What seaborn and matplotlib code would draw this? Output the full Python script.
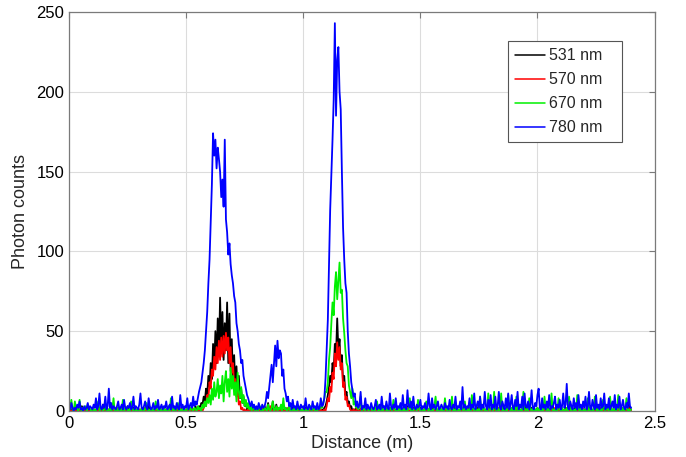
import numpy as np
import pandas as pd
import matplotlib
matplotlib.use("Agg")
import matplotlib.pyplot as plt
import seaborn as sns

# ---------------- data (sampled every 0.005 m from 0 to 2.4 m) ----------------
x_step = 0.005
n_samples = 481

counts_531 = [
    1,0,0,2,0,1,0,0,1,0,0,3,0,1,0,0,2,0,0,1,
    0,1,0,0,2,0,0,1,0,4,0,1,0,0,1,0,2,0,0,1,
    0,0,2,0,1,0,0,1,0,0,3,0,1,0,0,2,0,1,0,0,
    1,0,0,2,0,0,1,0,3,0,0,1,0,0,2,0,1,0,0,1,
    0,2,0,0,1,0,0,3,0,1,0,0,2,0,0,1,0,0,2,0,
    1,0,0,2,0,1,0,0,3,0,1,3,2,5,4,9,6,14,10,22,
    15,30,20,42,28,50,30,58,35,71,40,62,32,55,38,68,30,61,25,45,
    20,35,15,28,10,22,8,14,5,9,3,6,1,3,0,1,0,2,0,0,
    1,0,0,2,0,1,0,3,0,1,5,0,2,0,6,1,0,4,0,2,
    0,3,0,1,0,2,0,0,1,0,0,2,0,1,0,0,3,0,0,1,
    0,0,2,0,1,0,0,1,0,0,2,0,0,1,0,0,1,0,2,3,
    6,10,15,22,18,30,25,42,35,58,38,45,28,35,18,22,10,12,5,6,
    2,3,0,1,0,2,0,0,1,0,3,0,0,1,0,2,0,0,1,0,
    0,2,0,0,1,0,3,0,0,1,0,0,2,0,1,0,0,4,0,1,
    0,0,2,0,1,0,0,1,0,3,0,0,1,0,2,0,0,1,0,0,
    2,0,1,0,0,3,0,1,0,0,2,0,0,1,0,0,2,0,1,0,
    0,1,0,0,2,0,0,1,0,3,0,0,1,0,0,2,0,1,0,0,
    1,0,2,0,0,1,0,0,3,0,1,0,0,2,0,0,1,0,0,2,
    0,1,0,0,2,0,1,0,0,1,0,4,0,0,1,0,2,0,0,1,
    0,0,1,0,2,0,0,1,0,0,3,0,1,0,0,2,0,0,1,0,
    2,0,0,1,0,0,2,0,1,0,0,1,0,3,0,0,1,0,0,2,
    0,1,0,0,2,0,0,1,0,0,1,0,2,0,0,1,0,0,3,0,
    1,0,0,2,0,1,0,0,1,0,0,2,0,0,1,0,3,0,0,1,
    0,2,0,0,1,0,0,3,0,1,0,0,2,0,0,1,0,0,5,0,
    1,
]

counts_570 = [
    0,1,0,0,1,0,0,2,0,0,1,0,0,1,0,0,0,1,0,0,
    1,0,0,1,0,0,2,0,0,1,0,0,0,1,0,0,1,0,0,2,
    0,0,1,0,0,1,0,0,0,2,0,0,1,0,0,1,0,0,1,0,
    0,1,0,0,2,0,0,1,0,0,0,1,0,0,1,0,0,2,0,0,
    1,0,0,1,0,0,0,2,0,0,1,0,0,1,0,0,2,0,0,1,
    0,0,1,0,0,2,0,0,1,0,0,1,0,1,0,2,5,3,10,8,
    18,14,26,22,34,26,40,30,44,32,46,34,47,36,49,38,46,30,40,24,
    30,16,20,9,12,4,6,1,2,0,1,0,0,1,0,0,2,0,0,1,
    0,0,1,0,0,2,0,1,0,0,1,0,3,0,0,1,0,0,2,0,
    0,1,0,0,1,0,0,2,0,0,1,0,0,0,1,0,0,1,0,0,
    1,0,0,1,0,0,2,0,0,1,0,0,1,0,0,1,0,0,1,0,
    3,8,6,15,12,24,20,36,28,43,32,40,26,30,15,18,7,9,3,4,
    1,0,0,1,0,0,2,0,0,1,0,0,1,0,0,0,1,0,0,1,
    0,0,1,0,0,2,0,0,1,0,0,1,0,0,2,0,0,1,0,0,
    1,0,0,1,0,0,1,0,0,2,0,0,1,0,0,1,0,0,1,0,
    0,1,0,0,2,0,0,1,0,0,1,0,0,1,0,0,2,0,0,1,
    0,0,1,0,0,1,0,0,2,0,0,1,0,0,1,0,0,1,0,0,
    2,0,0,1,0,0,1,0,0,1,0,0,2,0,0,1,0,0,1,0,
    0,1,0,0,1,0,0,2,0,0,1,0,0,1,0,0,1,0,0,2,
    0,0,1,0,0,1,0,0,1,0,0,2,0,0,1,0,0,1,0,0,
    1,0,0,2,0,0,1,0,0,1,0,0,1,0,0,2,0,0,1,0,
    0,1,0,0,1,0,0,1,0,0,2,0,0,1,0,0,1,0,0,1,
    0,0,2,0,0,1,0,0,1,0,0,1,0,0,2,0,0,1,0,0,
    1,0,0,1,0,0,2,0,0,1,0,0,1,0,0,1,0,0,2,0,
    0,
]

counts_670 = [
    6,2,7,1,0,6,1,2,0,7,1,0,2,1,3,0,1,2,1,0,
    2,0,1,0,2,6,0,1,2,0,1,3,0,1,0,2,0,1,8,0,
    1,0,2,0,1,0,7,0,1,2,0,1,0,6,1,0,2,0,1,0,
    0,1,0,2,0,1,5,0,1,0,2,0,1,0,6,1,0,2,0,1,
    0,2,0,1,0,3,0,8,1,0,2,0,1,5,0,1,0,2,0,1,
    0,1,3,0,2,1,0,2,1,0,3,1,2,0,4,2,6,3,8,5,
    10,4,14,7,18,9,12,20,8,16,11,22,6,18,25,12,20,9,27,14,
    22,10,18,6,24,12,8,15,5,10,3,7,2,5,1,3,0,4,1,0,
    2,0,1,3,0,1,0,2,1,0,4,1,0,2,6,0,1,3,0,2,
    1,4,0,8,1,2,0,1,3,0,1,0,2,0,1,0,2,1,0,1,
    0,2,0,1,0,1,3,0,1,2,0,1,0,2,1,3,2,5,8,12,
    12,18,32,40,55,68,60,78,87,70,82,93,74,76,58,49,38,30,28,16,
    12,8,14,4,6,2,5,1,3,9,0,2,1,0,3,1,0,2,1,0,
    2,0,1,6,0,1,0,2,0,1,3,0,1,0,2,1,0,7,1,0,
    1,0,2,0,1,0,3,0,1,0,2,8,0,1,0,2,1,0,7,1,
    0,2,0,1,0,6,1,0,2,0,1,0,3,9,0,1,0,2,0,1,
    0,8,1,0,2,0,1,9,0,1,0,2,0,1,0,3,1,0,6,0,
    1,0,2,0,10,1,0,2,0,1,0,9,0,1,2,0,1,0,11,0,
    1,2,0,12,1,0,2,0,1,11,0,1,0,2,0,10,1,0,2,0,
    1,0,9,0,2,0,1,0,12,1,0,2,0,8,1,0,2,0,1,0,
    2,0,1,0,3,0,9,1,0,2,0,1,11,0,1,0,2,0,8,1,
    0,2,0,1,0,2,0,9,1,0,2,0,1,0,10,1,0,2,0,1,
    0,1,0,8,0,2,0,1,0,9,1,0,2,0,1,0,7,1,0,2,
    1,0,9,0,1,0,2,0,1,10,0,1,0,2,0,1,8,0,1,0,
    1,
]

counts_780 = [
    3,1,5,2,0,2,1,4,2,6,1,2,0,3,1,2,5,1,3,2,
    1,4,2,8,1,3,11,2,1,4,2,9,1,3,14,2,5,1,3,2,
    1,3,6,1,2,4,1,7,2,1,3,2,5,1,2,9,1,3,2,1,
    4,11,2,1,3,6,2,1,8,3,1,2,5,1,3,2,7,1,2,4,
    1,3,2,6,1,2,4,1,9,2,3,1,5,2,1,10,2,4,1,3,
    2,8,1,3,5,2,9,3,6,4,8,12,15,18,24,30,38,50,62,80,
    95,118,142,174,160,170,152,165,158,150,134,145,128,170,120,112,98,105,92,85,
    80,72,68,55,50,42,38,30,32,22,18,14,10,8,5,3,6,2,4,1,
    3,1,5,2,1,4,2,3,6,12,8,15,22,29,18,30,41,28,44,33,
    38,36,22,26,14,11,6,9,3,5,1,7,2,3,1,6,2,1,4,2,
    3,1,8,2,1,4,2,1,6,2,3,1,5,1,2,8,3,4,8,20,
    38,57,90,126,148,170,195,243,185,220,228,200,189,150,115,95,80,74,50,36,
    28,18,13,9,11,3,6,2,4,12,1,3,2,8,1,4,2,1,5,2,
    1,3,7,1,2,4,1,9,2,3,1,6,2,1,11,3,1,4,2,8,
    1,3,2,5,1,10,2,4,1,13,3,2,6,1,9,2,1,4,2,3,
    7,1,3,2,5,1,2,11,3,1,8,2,4,1,3,6,1,2,4,2,
    1,5,2,3,1,7,2,1,4,2,9,1,3,2,6,1,15,2,4,1,
    3,2,8,1,4,2,11,1,3,6,2,9,1,4,2,12,3,1,7,2,
    10,1,4,2,9,1,3,12,2,1,6,3,1,8,2,11,1,4,10,2,
    1,7,3,12,1,4,2,9,1,11,3,2,6,1,4,13,2,1,5,3,
    10,14,2,1,8,2,4,1,6,2,10,1,3,2,5,9,1,4,2,7,
    1,3,11,2,4,17,2,1,6,3,1,8,2,5,1,10,2,4,1,6,
    2,9,1,3,12,2,1,7,3,1,10,2,4,1,8,2,3,11,1,4,
    2,8,1,3,6,2,10,1,4,2,9,1,3,7,2,1,5,2,11,3,
    2,
]

wavelengths = ["531 nm", "570 nm", "670 nm", "780 nm"]
line_colors = ["#000000", "#ff0000", "#00f000", "#0000ff"]
x_ticks = [0, 0.5, 1, 1.5, 2, 2.5]
x_tick_labels = ["0", "0.5", "1", "1.5", "2", "2.5"]
y_ticks = [0, 50, 100, 150, 200, 250]

# ---------------- build table ----------------
distance = np.round(np.arange(n_samples) * x_step, 4)
series = [counts_531, counts_570, counts_670, counts_780]
frames = []
for name, vals in zip(wavelengths, series):
    assert len(vals) == n_samples, (name, len(vals))
    frames.append(pd.DataFrame({"distance": distance, "counts": vals, "wavelength": name}))
df = pd.concat(frames, ignore_index=True)

# ---------------- plot ----------------
sns.set_style("white")
plt.rcParams["font.family"] = ["Liberation Sans", "DejaVu Sans"]

fig = plt.figure(figsize=(6.86, 4.57), dpi=100)
ax = fig.add_axes([0.1006, 0.1007, 0.8536, 0.8731])

sns.lineplot(data=df, x="distance", y="counts", hue="wavelength",
             hue_order=wavelengths, palette=line_colors,
             estimator=None, sort=False, linewidth=1.3, ax=ax)

ax.set_xlim(0, 2.5)
ax.set_ylim(0, 250)
ax.set_xticks(x_ticks)
ax.set_xticklabels(x_tick_labels)
ax.set_yticks(y_ticks)
ax.grid(True, color="#dcdcdc", linewidth=0.8)
ax.set_axisbelow(True)
for s in ax.spines.values():
    s.set_color("#7a7a7a")
    s.set_linewidth(0.9)
ax.tick_params(axis="both", direction="in", length=4, color="#7a7a7a",
               labelsize=12, labelcolor="black", top=True, right=True)
ax.set_xlabel("Distance (m)", fontsize=13, labelpad=3)
ax.set_ylabel("Photon counts", fontsize=13, labelpad=5)

handles, labels = ax.get_legend_handles_labels()
leg = ax.legend(handles, labels, loc="upper left",
                bbox_to_anchor=(0.749, 0.674, 0.195, 0.253), mode="expand",
                borderaxespad=0, fontsize=11.5, frameon=True, fancybox=False,
                framealpha=1, edgecolor="#555555", handlelength=1.9,
                handletextpad=0.25, labelspacing=0.56, borderpad=0.45)
leg.get_frame().set_linewidth(0.8)
for line in leg.get_lines():
    line.set_linewidth(1.1)

fig.savefig("out.png", dpi=100)
